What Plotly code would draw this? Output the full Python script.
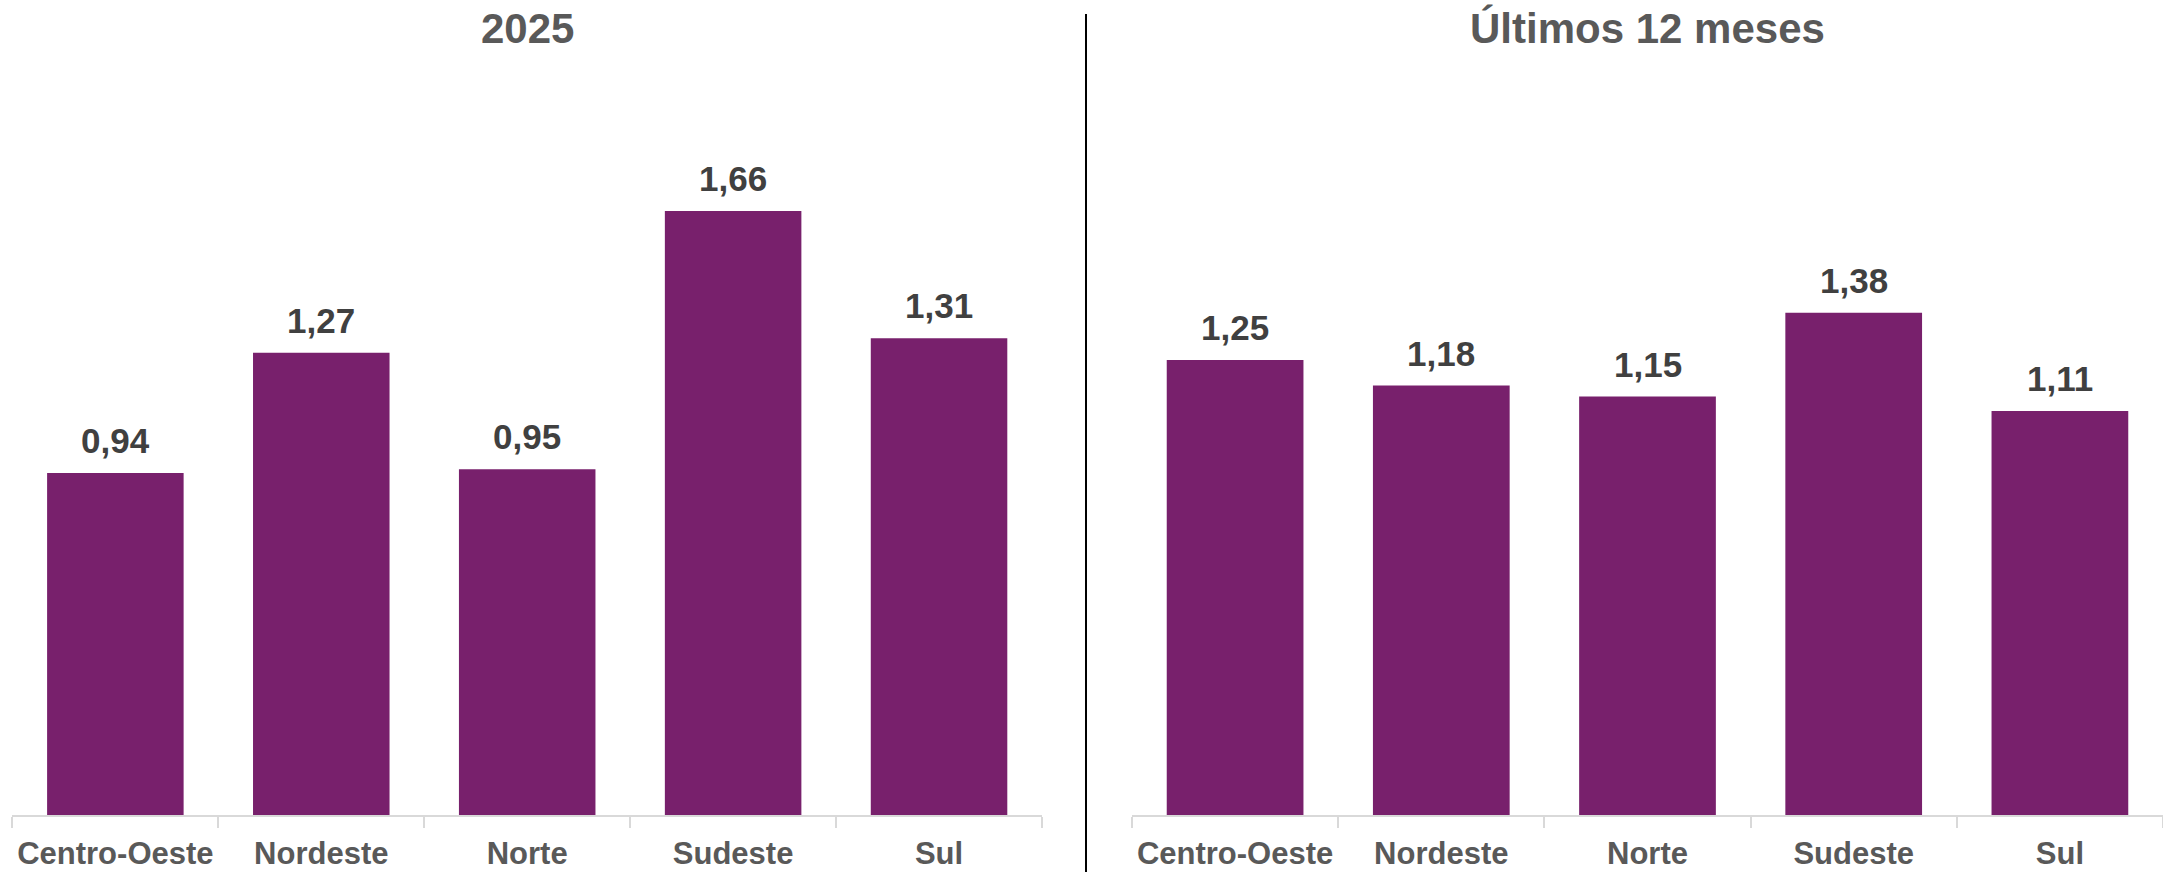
import plotly.graph_objects as go

categories = ["Centro-Oeste", "Nordeste", "Norte", "Sudeste", "Sul"]
values_2025 = [0.94, 1.27, 0.95, 1.66, 1.31]
values_12m = [1.25, 1.18, 1.15, 1.38, 1.11]
titles = ["2025", "Últimos 12 meses"]

W, H = 2163, 872
BAR = "#78206C"
FONT = "Liberation Sans, Arial, sans-serif"

fig = go.Figure()
fig.add_trace(go.Bar(x=categories, y=values_2025, marker=dict(color=BAR, line=dict(width=0)),
                     xaxis="x", yaxis="y", hoverinfo="skip"))
fig.add_trace(go.Bar(x=categories, y=values_12m, marker=dict(color=BAR, line=dict(width=0)),
                     xaxis="x2", yaxis="y2", hoverinfo="skip"))

def fmt(v):
    return f"{v:.2f}".replace(".", ",")

annotations = []
for vals, xr, yr in [(values_2025, "x", "y"), (values_12m, "x2", "y2")]:
    for c, v in zip(categories, vals):
        annotations.append(dict(x=c, y=v, xref=xr, yref=yr, text=f"<b>{fmt(v)}</b>",
                                showarrow=False, yanchor="bottom", yshift=11,
                                font=dict(family=FONT, size=35, color="#404040")))

dom_left = [12.4 / W, 1042 / W]
dom_right = [1132 / W, 1.0]
for dom, t in zip([dom_left, dom_right], titles):
    annotations.append(dict(x=(dom[0] + dom[1]) / 2, y=1 - 28 / H, xref="paper", yref="paper",
                            text=f"<b>{t}</b>", showarrow=False, xanchor="center", yanchor="middle",
                            font=dict(family=FONT, size=42, color="#595959")))

xcommon = dict(type="category", showline=True, linecolor="#d9d9d9", linewidth=1.5,
               ticks="outside", tickson="boundaries", ticklen=11, tickcolor="#d9d9d9", tickwidth=1.5,
               showgrid=False, zeroline=False, ticklabelstandoff=10, automargin=False,
               tickfont=dict(family=FONT, size=31, color="#595959"),
               tickvals=categories, ticktext=[f"<b>{c}</b>" for c in categories])
ydom = [57 / H, 1.0]
yrange = [0, (H - 57) / 363.9]
ycommon = dict(visible=False, range=yrange, domain=ydom, showgrid=False, zeroline=False,
               automargin=False)

fig.update_layout(
    width=W, height=H,
    margin=dict(l=0, r=0, t=0, b=0, autoexpand=False),
    paper_bgcolor="white", plot_bgcolor="white",
    showlegend=False,
    bargap=0.337,
    xaxis=dict(domain=dom_left, anchor="y", **xcommon),
    xaxis2=dict(domain=dom_right, anchor="y2", **xcommon),
    yaxis=dict(anchor="x", **ycommon),
    yaxis2=dict(anchor="x2", **ycommon),
    annotations=annotations,
    shapes=[dict(type="line", xref="paper", yref="paper", x0=1086 / W, x1=1086 / W,
                 y0=0, y1=1 - 14 / H, line=dict(color="black", width=2))],
)

fig.write_html("out.html")
